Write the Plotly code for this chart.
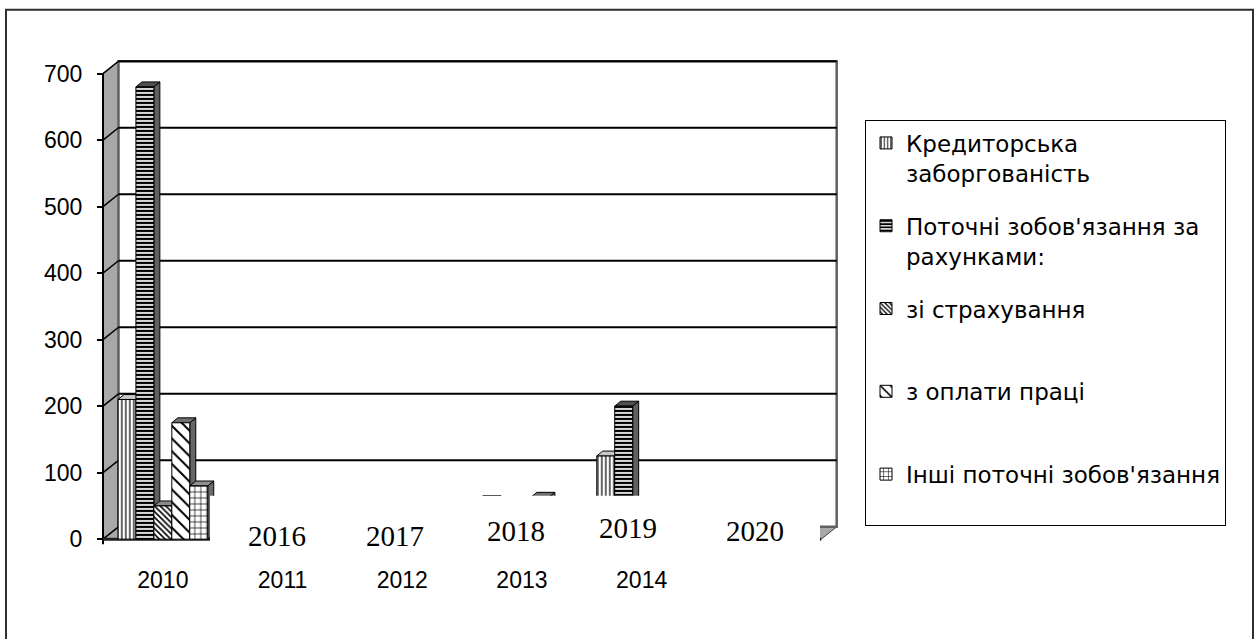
import plotly.graph_objects as go

# ---------------- data ----------------
categories = ["2010", "2011", "2012", "2013", "2014", ""]
series_names = [
    "Кредиторська<br>заборгованість",
    "Поточні зобов'язання за<br>рахунками:",
    "зі страхування<br> ",
    "з оплати праці<br> ",
    "Інші поточні зобов'язання<br> ",
]
kredytorska = [210, None, None, 58, 125, None]
potochni = [680, None, None, None, 200, None]
strakhuvannia = [50, None, None, None, None, None]
oplata_pratsi = [175, None, None, 63, None, None]
inshi = [80, None, None, None, None, None]
overlay_labels = ["2016", "2017", "2018", "2019", "2020"]
y_ticks = [0, 100, 200, 300, 400, 500, 600, 700]

series_values = [kredytorska, potochni, strakhuvannia, oplata_pratsi, inshi]

# ---------------- geometry / style ----------------
W, H = 1257, 639
PX_X = 119.7                 # px per category
PX_Y = 471.5 / 700.0         # px per value unit
X_RANGE = [-0.56, 5.66]
Y_RANGE = [-8, 725]
front_left_px = 103
front_bottom_px = 546
dom_x0 = front_left_px + (X_RANGE[0] + 0.5) * PX_X
dom_x1 = dom_x0 + (X_RANGE[1] - X_RANGE[0]) * PX_X
dom_y_bottom_px = front_bottom_px - (Y_RANGE[0]) * PX_Y
dom_y_top_px = dom_y_bottom_px - (Y_RANGE[1] - Y_RANGE[0]) * PX_Y
DX = 15.5 / PX_X             # 3D wall depth in x units
DY = 12.5 / PX_Y             # 3D wall depth in y units
BDX = 6 / PX_X               # bar depth
BDY = 5 / PX_Y

SERIF = "Liberation Serif"
LEGEND_FONT = "DejaVu Sans"
SANS = "Liberation Sans"

patterns = [
    dict(shape="|", size=4, solidity=0.3, bg="white"),
    dict(shape="-", size=4, solidity=0.5, bg="#d8d8d8"),
    dict(shape="\\", size=4, solidity=0.4, bg="white"),
    dict(shape="\\", size=9, solidity=0.22, bg="white"),
    dict(shape="+", size=6, solidity=0.22, bg="white"),
]
top_colors = ["#c8c8c8", "#505050", "#8a8a8a", "#707070", "#909090"]
side_colors = ["#808080", "#606060", "#777777", "#666666", "#6a6a6a"]

fig = go.Figure()
xs = list(range(len(categories)))
for i, (name, vals) in enumerate(zip(series_names, series_values)):
    p = patterns[i]
    fig.add_trace(go.Bar(
        x=xs, y=vals, name=name, legendgroup=f"g{i}",
        marker=dict(color="white", line=dict(color="black", width=1),
                    pattern=dict(shape=p["shape"], size=p["size"], solidity=p["solidity"],
                                 fgcolor="black", bgcolor=p["bg"], fillmode="replace")),
    ))

shapes = []
shapes.append(dict(type="rect", xref="paper", yref="paper", x0=6 / W, x1=1253 / W,
                   y0=-0.05, y1=1 - 10 / H, line=dict(color="#303030", width=2),
                   fillcolor="rgba(0,0,0,0)", layer="below"))
shapes.append(dict(type="path", xref="x", yref="y", layer="below",
                   path=f"M -0.5,0 L {-0.5+DX},{DY} L {-0.5+DX},{700+DY} L -0.5,700 Z",
                   fillcolor="#a8a8a8", line=dict(color="#404040", width=1)))
shapes.append(dict(type="path", xref="x", yref="y", layer="below",
                   path=f"M -0.5,0 L 5.5,0 L {5.5+DX},{DY} L {-0.5+DX},{DY} Z",
                   fillcolor="#a8a8a8", line=dict(color="#404040", width=1)))
shapes.append(dict(type="rect", xref="x", yref="y", layer="below",
                   x0=-0.5 + DX, x1=5.5 + DX, y0=DY, y1=700 + DY,
                   fillcolor="white", line=dict(color="#606060", width=2.5)))
for v in y_ticks:
    if v > 0:
        shapes.append(dict(type="line", xref="x", yref="y", layer="below",
                           x0=-0.5 + DX, x1=5.5 + DX, y0=v + DY, y1=v + DY,
                           line=dict(color="black", width=2)))
    shapes.append(dict(type="line", xref="x", yref="y", layer="below",
                       x0=-0.5, x1=-0.5 + DX, y0=v, y1=v + DY,
                       line=dict(color="black", width=1.5)))
shapes.append(dict(type="line", xref="x", yref="y", layer="between",
                   x0=-0.5, x1=-0.5, y0=-8, y1=700, line=dict(color="black", width=2)))
shapes.append(dict(type="line", xref="x", yref="y", layer="between",
                   x0=-0.5, x1=5.5, y0=0, y1=0, line=dict(color="#202020", width=3)))

for gi in xs:
    for i, vals in enumerate(series_values):
        v = vals[gi]
        if v is None:
            continue
        c = gi - 0.3 + 0.15 * i
        l, r = c - 0.075, c + 0.075
        shapes.append(dict(type="path", xref="x", yref="y", layer="between",
                           path=f"M {r},0 L {r},{v} L {r+BDX},{v+BDY} L {r+BDX},{BDY} Z",
                           fillcolor=side_colors[i], line=dict(color="black", width=1)))
        shapes.append(dict(type="path", xref="x", yref="y", layer="between",
                           path=f"M {l},{v} L {r},{v} L {r+BDX},{v+BDY} L {l+BDX},{v+BDY} Z",
                           fillcolor=top_colors[i], line=dict(color="black", width=1)))

shapes.append(dict(type="rect", xref="paper", yref="paper", layer="above",
                   x0=210 / W, x1=820 / W, y0=1 - 568 / H, y1=1 - 502 / H,
                   fillcolor="white", line=dict(width=0)))

overlay_pos = [(277, 543), (395, 543), (516, 538), (628, 535), (755, 538)]
annotations = []
for txt, (px, py) in zip(overlay_labels, overlay_pos):
    annotations.append(dict(text=txt, xref="paper", yref="paper", x=px / W, y=1 - py / H,
                            xanchor="center", yanchor="middle", showarrow=False,
                            font=dict(family=SERIF, size=29, color="black")))

fig.update_layout(
    width=W, height=H, margin=dict(l=0, r=0, t=0, b=0),
    font=dict(family=SERIF, color="black"),
    paper_bgcolor="white", plot_bgcolor="rgba(0,0,0,0)",
    barmode="group", bargap=0.25, bargroupgap=0,
    shapes=shapes, annotations=annotations,
    xaxis=dict(domain=[dom_x0 / W, dom_x1 / W], range=X_RANGE,
               tickvals=xs[:5], ticktext=categories[:5], showgrid=False, zeroline=False,
               showline=False, ticks="", anchor="free", position=1 - front_bottom_px / H,
               ticklabelstandoff=25,
               tickfont=dict(family=SANS, size=23, color="black")),
    yaxis=dict(domain=[1 - dom_y_bottom_px / H, 1 - dom_y_top_px / H], range=Y_RANGE,
               tickvals=y_ticks, showgrid=False, zeroline=False, showline=False,
               ticks="outside", ticklen=6, tickcolor="black", tickwidth=1.5,
               anchor="free", position=front_left_px / W, ticklabelstandoff=10,
               tickfont=dict(family=SANS, size=23, color="black")),
    legend=dict(x=865 / W, y=1 - 122 / H, xanchor="left", yanchor="top",
                bordercolor="black", borderwidth=1, bgcolor="white",
                font=dict(family=LEGEND_FONT, size=23, color="black"),
                valign="top", tracegroupgap=20, traceorder="grouped"),
    showlegend=True,
)

fig.write_html("out.html")
